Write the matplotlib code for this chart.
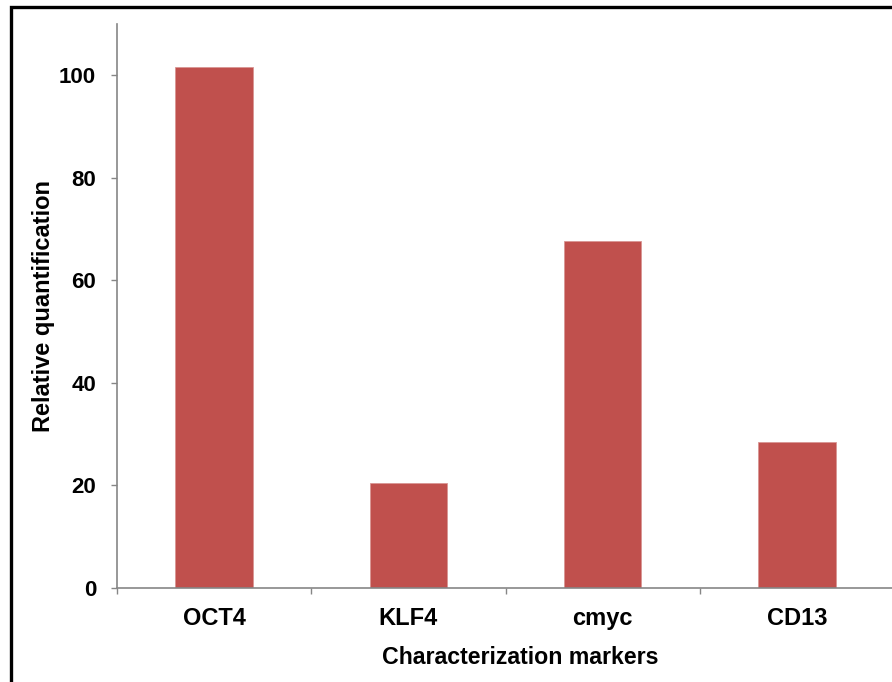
import matplotlib
matplotlib.use("Agg")
import matplotlib.pyplot as plt
from matplotlib.patches import Rectangle
import numpy as np

# marker expression data
markers = ["OCT4", "KLF4", "cmyc", "CD13"]
rel_quant = [101.6, 20.5, 67.6, 28.5]
y_ticks = [0, 20, 40, 60, 80, 100]

bar_color = "#C0504D"
axis_gray = "#868686"

plt.rcParams["font.family"] = ["Liberation Sans", "DejaVu Sans"]
plt.rcParams["font.weight"] = "bold"

fig = plt.figure(figsize=(8.92, 6.82), dpi=100)
ax = fig.add_axes([117 / 892, 1 - 588 / 682, 777 / 892, (588 - 24) / 682])

x = np.arange(len(markers))
ax.bar(x, rel_quant, width=0.4, color=bar_color, edgecolor="#D99694", linewidth=0.6, zorder=2)

ax.set_xlim(-0.5, len(markers) - 0.5)
ax.set_ylim(0, 110)

ax.set_yticks(y_ticks)
ax.set_yticklabels([str(t) for t in y_ticks], fontsize=16, fontweight="bold")
ax.set_xticks(x)
ax.set_xticklabels(markers, fontsize=17, fontweight="bold")
ax.set_xticks(np.arange(-0.5, len(markers), 1.0), minor=True)

ax.tick_params(axis="y", direction="out", length=4, width=1, color=axis_gray, pad=11)
ax.tick_params(axis="x", which="major", length=0, pad=14)
ax.tick_params(axis="x", which="minor", direction="out", length=4, width=1, color=axis_gray)

for side in ("top", "right"):
    ax.spines[side].set_visible(False)
for side in ("left", "bottom"):
    ax.spines[side].set_color(axis_gray)
    ax.spines[side].set_linewidth(1.2)

ax.set_xlabel("Characterization markers", fontsize=16.7, fontweight="bold", labelpad=11)
ax.xaxis.label.set_x(0.519)
ax.set_ylabel("Relative quantification", fontsize=17, fontweight="bold", labelpad=3)

# outer frame of the chart area
fig.patches.append(Rectangle((11 / 892, -0.1), 1.2, 0.1 + 1 - 7 / 682,
                             transform=fig.transFigure, fill=False,
                             edgecolor="black", linewidth=2.4, zorder=10))

fig.savefig("out.png", dpi=100)
